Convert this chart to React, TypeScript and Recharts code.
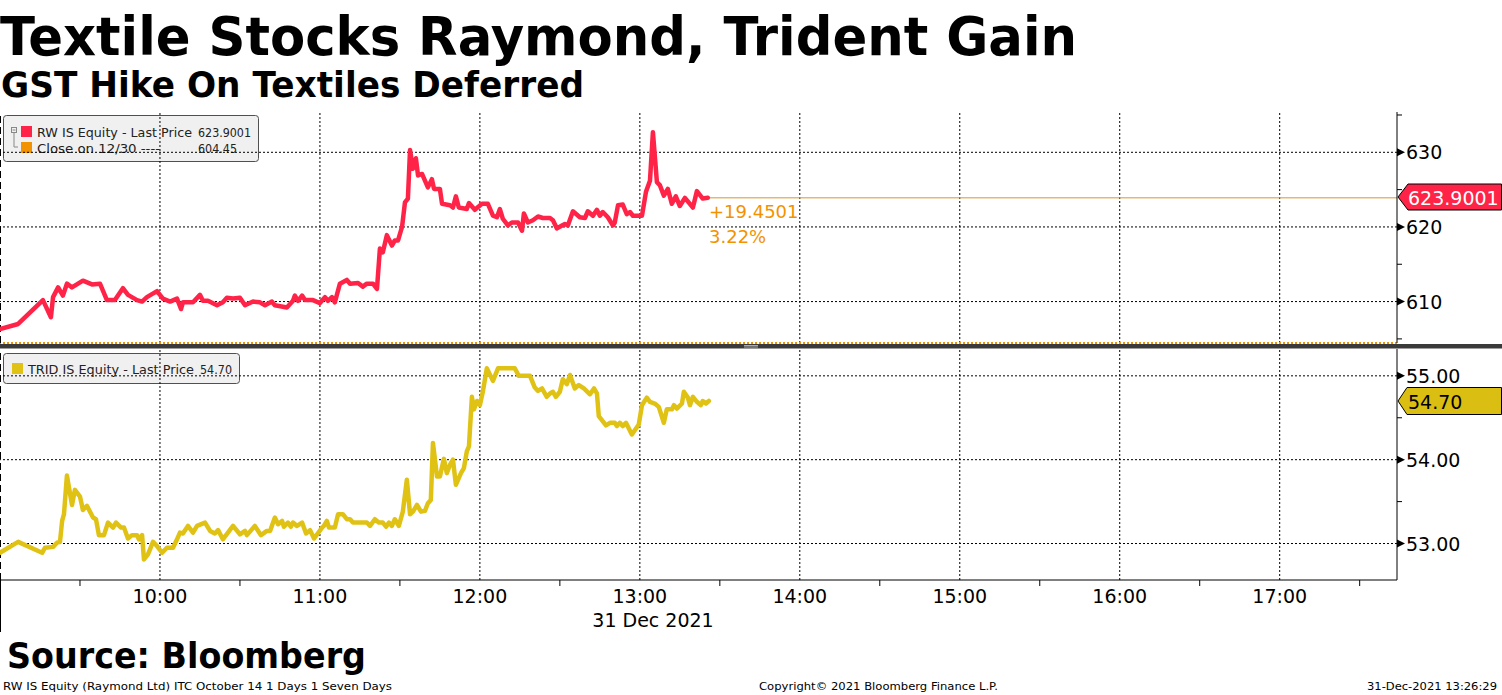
import React from "react";
import { LineChart, Line, XAxis, YAxis, ReferenceLine } from "recharts";

// ---- data (time = minutes after 09:00, 31 Dec 2021) ----
const rwTime = [
  0, 6.8, 16.1, 19.1, 19.9, 21.8, 23.6, 25.1, 27, 31.1, 34.5, 37.5, 40.1, 43.1, 46.1, 48, 51.4, 53.3, 55.1, 58.9,
  61.1, 63.8, 66.4, 67.9, 68.6, 72.4, 75, 76.1, 78, 81.4, 83.6, 85.1, 87.4, 90, 91.9, 94.9, 97.5, 99.4, 102, 103.1,
  107.6, 109.9, 110.6, 111.8, 113.3, 114.4, 117.4, 120, 121.9, 123, 124.5, 125.6, 127.5, 130.1, 131.3, 134.3, 136.1,
  137.6, 139.9, 141.4, 142.5, 143.6, 145.1, 147, 148.1, 149.3, 150.8, 151.9, 153, 153.8, 154.9, 156, 156.8, 158.3,
  160.5, 162, 162.8, 165, 165.8, 168.8, 169.9, 171, 172.1, 175.1, 175.9, 178.1, 180.8, 183, 184.9, 186.4, 187.5,
  188.6, 190.5, 192, 194.3, 195.8, 196.5, 198, 199.9, 201.8, 203.6, 206.3, 207.4, 208.9, 210.8, 211.9, 213, 214.9,
  217.5, 219.4, 220.5, 222.4, 223.9, 225, 226.1, 228, 229.9, 230.6, 231.8, 233.6, 235.1, 236.3, 237.4, 240.8, 242.3,
  243.8, 244.9, 246.4, 247.5, 249, 250.5, 252, 253.5, 255, 256.9, 259.9, 261.4, 263.6, 265.5,
];
const rwPrice = [
  606.3, 607.0, 610.2, 607.9, 610.6, 611.9, 610.8, 612.4, 611.9, 612.8, 612.3, 612.4, 610.2, 610.2, 611.8, 610.9,
  610.2, 610.0, 610.6, 611.4, 610.4, 610.0, 610.4, 609.0, 609.9, 609.9, 610.9, 610.1, 610.1, 609.5, 609.9, 610.5,
  610.4, 610.5, 609.5, 610.0, 609.9, 609.5, 610.0, 609.5, 609.2, 610.1, 610.8, 610.1, 610.8, 610.2, 610.2, 609.8,
  610.6, 610.1, 610.6, 609.9, 612.4, 612.9, 612.4, 612.5, 612.0, 612.4, 612.4, 611.7, 617.1, 616.6, 618.9, 617.5,
  618.2, 618.2, 620.0, 623.3, 623.8, 630.3, 627.8, 629.2, 626.9, 627.1, 625.3, 626.4, 625.1, 625.1, 623.1, 622.9,
  622.6, 624.1, 622.6, 622.4, 623.2, 622.3, 623.1, 623.1, 621.5, 621.3, 622.4, 621.1, 620.2, 620.6, 620.6, 619.5,
  621.8, 620.6, 620.9, 621.4, 621.2, 621.2, 620.9, 619.8, 620.2, 620.4, 620.2, 622.1, 621.3, 621.2, 622.1, 621.5,
  622.3, 621.5, 622.0, 621.3, 620.2, 620.6, 622.9, 623.0, 621.7, 622.0, 621.5, 621.5, 624.7, 626.2, 632.7, 626.0,
  625.6, 624.2, 625.1, 623.1, 624.1, 622.8, 623.9, 622.6, 624.8, 623.8, 623.9001,
];
const tridTime = [
  0, 6.8, 15.8, 16.9, 19.9, 21.4, 22.5, 23.3, 24, 25.1, 27, 28.1, 30, 31.1, 32.6, 34.9, 36, 37.1, 39, 40.5, 42.4,
  43.5, 45.4, 46.5, 48, 49.5, 51.4, 52.1, 53.3, 54, 55.5, 57.4, 58.9, 60.8, 62.6, 64.9, 66.4, 67.5, 68.6, 70.5, 72.4,
  73.9, 76.9, 78.8, 80.6, 81.8, 83.6, 87.4, 90, 91.9, 92.6, 95.6, 97.9, 100.1, 101.3, 103.1, 104.3, 105.8, 106.5,
  108, 109.1, 109.9, 111.4, 113.3, 114.8, 116.3, 117.8, 120.8, 121.5, 122.6, 123.4, 125.6, 126.8, 128.6, 130.1,
  131.3, 132.4, 137.6, 138.8, 140.6, 142.1, 143.6, 144.8, 145.9, 147, 148.1, 149.6, 151.1, 152.6, 153.8, 154.9,
  156.4, 157.9, 159.4, 160.5, 161.6, 162.4, 163.9, 165, 166.5, 167.6, 168.8, 169.9, 171, 172.9, 174, 175.1, 175.9,
  177, 177.8, 178.9, 180, 181.1, 182.6, 184.9, 186.8, 193.1, 194.6, 198.8, 200.6, 201.8, 203.3, 205.1, 206.3, 207.4,
  208.5, 210, 211.1, 212.6, 213.8, 215.6, 217.1, 219, 221.3, 222.8, 223.9, 224.6, 227.3, 228.8, 230.6, 231.4, 232.5,
  233.6, 234.8, 237, 239.6, 240.8, 242.6, 243.8, 245.6, 247.1, 249, 250.1, 252, 252.8, 253.9, 255.8, 256.5, 258,
  258.8, 259.9, 261.4, 262.9, 263.6, 264.8, 265.9,
];
const tridPrice = [
  52.89, 53.02, 52.89, 52.95, 52.96, 53.01, 53.02, 53.27, 53.35, 53.81, 53.46, 53.64, 53.56, 53.4, 53.45, 53.31,
  53.29, 53.1, 53.1, 53.25, 53.19, 53.25, 53.19, 53.19, 53.06, 53.1, 53.1, 53.05, 53.1, 52.81, 52.87, 53.02, 52.97,
  52.89, 52.95, 52.95, 53.05, 53.13, 53.12, 53.21, 53.13, 53.21, 53.25, 53.15, 53.12, 53.16, 53.05, 53.21, 53.11,
  53.15, 53.1, 53.21, 53.1, 53.15, 53.15, 53.31, 53.23, 53.27, 53.2, 53.25, 53.2, 53.25, 53.21, 53.25, 53.12, 53.16,
  53.06, 53.19, 53.21, 53.27, 53.19, 53.19, 53.35, 53.35, 53.29, 53.29, 53.25, 53.25, 53.21, 53.29, 53.25, 53.25,
  53.2, 53.25, 53.21, 53.29, 53.21, 53.38, 53.76, 53.35, 53.38, 53.46, 53.38, 53.39, 53.48, 53.52, 54.2, 53.8, 53.8,
  54.01, 53.84, 53.94, 54.0, 53.7, 53.84, 53.9, 54.1, 54.16, 54.75, 54.6, 54.7, 54.65, 54.81, 55.09, 54.94, 55.09,
  55.09, 55.0, 55.0, 54.86, 54.82, 54.85, 54.75, 54.79, 54.81, 54.75, 54.81, 54.96, 54.9, 55.01, 54.85, 54.89, 54.85,
  54.78, 54.85, 54.79, 54.52, 54.41, 54.44, 54.44, 54.4, 54.44, 54.4, 54.44, 54.3, 54.42, 54.65, 54.74, 54.69, 54.67,
  54.63, 54.44, 54.6, 54.6, 54.65, 54.61, 54.67, 54.81, 54.74, 54.65, 54.75, 54.69, 54.65, 54.7, 54.67, 54.7,
];

const hourTicks = [60, 120, 180, 240, 300, 360, 420, 480];
const hourLabels = ["10:00", "11:00", "12:00", "13:00", "14:00", "15:00", "16:00", "17:00"];
const halfHourTicks = [30, 90, 150, 210, 270, 330, 390, 450, 510];
const dateLabel = "31 Dec 2021";

const rwMajor = [610, 620, 630];
const rwMinor = [605, 615, 625, 635];
const tridMajor = [53, 54, 55];
const tridMinor = [53.5, 54.5];

const rwLast = 623.9001;
const rwPrevClose = 604.45;
const rwChange = "+19.4501";
const rwChangePct = "3.22%";
const tridLast = 54.7;

const titleText = "Textile Stocks Raymond, Trident Gain";
const subtitleText = "GST Hike On Textiles Deferred";
const sourceText = "Source: Bloomberg";
const footLeft = "RW IS Equity (Raymond Ltd) ITC October 14 1 Days 1 Seven Days";
const footMid = "Copyright\u00A9 2021 Bloomberg Finance L.P.";
const footRight = "31-Dec-2021 13:26:29";

// ---- styling / layout ----
const W = 1502;
const H = 695;
const PLOT_RIGHT = 1397;
const AXIS_W = W - PLOT_RIGHT;
const X_DOMAIN: [number, number] = [0, 524];
const RED = "#ff2348";
const YELLOW = "#e0c214";
const ORANGE = "#f39200";
const FONT = "'DejaVu Sans', Verdana, sans-serif";

const rwData = rwTime.map((t, i) => ({ t, v: rwPrice[i] }));
const tridData = tridTime.map((t, i) => ({ t, v: tridPrice[i] }));

const makeYTick = (major: number[], fmt: (v: number) => string) => (props: any) => {
  const { y, payload } = props;
  const v = payload.value as number;
  const isMajor = major.some((m) => Math.abs(m - v) < 1e-6);
  if (isMajor) {
    return (
      <g>
        <polygon points={`${PLOT_RIGHT},${y - 4} ${PLOT_RIGHT + 8},${y} ${PLOT_RIGHT},${y + 4}`} fill="#000" />
        <text x={PLOT_RIGHT + 9} y={y + 7} fontSize={19} fontFamily={FONT} fill="#000">
          {fmt(v)}
        </text>
      </g>
    );
  }
  return <line x1={PLOT_RIGHT} x2={PLOT_RIGHT + 5} y1={y} y2={y} stroke="#000" strokeWidth={1} />;
};

const XTick = (props: any) => {
  const { x, payload } = props;
  const v = payload.value as number;
  const idx = hourTicks.indexOf(v);
  if (idx >= 0) {
    return (
      <text x={x} y={603} textAnchor="middle" fontSize={19} fontFamily={FONT} fill="#000">
        {hourLabels[idx]}
      </text>
    );
  }
  return <line x1={x} x2={x} y1={580} y2={586} stroke="#000" strokeWidth={1} />;
};

const gridLines = (yVals: number[]) => [
  ...hourTicks.map((h) => (
    <ReferenceLine key={`gx${h}`} x={h} stroke="#000" strokeDasharray="2 2" strokeWidth={1} />
  )),
  ...yVals.map((v) => (
    <ReferenceLine key={`gy${v}`} y={v} stroke="#000" strokeDasharray="2 2" strokeWidth={1} />
  )),
];

export default function App() {
  const rwTick = makeYTick(rwMajor, (v) => String(v));
  const tridTick = makeYTick(tridMajor, (v) => v.toFixed(2));
  return (
    <div style={{ position: "relative", width: W, height: H, background: "#fff", overflow: "hidden" }}>
      <style>{"body{margin:0}"}</style>
      {/* background layer: titles, legends, separators, footer */}
      <svg width={W} height={H} style={{ position: "absolute", left: 0, top: 0 }}>
        <text x={0} y={55} fontSize={53} fontWeight="bold" fontFamily={FONT} textLength={1077} lengthAdjust="spacingAndGlyphs">
          {titleText}
        </text>
        <text x={1} y={97} fontSize={36} fontWeight="bold" fontFamily={FONT} textLength={583} lengthAdjust="spacingAndGlyphs">
          {subtitleText}
        </text>

        {/* top legend */}
        <rect x={3.5} y={115.5} width={255} height={46} rx={3} fill="#f0f0f0" stroke="#505050" />
        <rect x={11.5} y={127.5} width={5} height={5} fill="none" stroke="#888" />
        <line x1={12.5} x2={15.5} y1={130} y2={130} stroke="#888" />
        <polyline points="14,133 14,147 18,147" fill="none" stroke="#888" />
        <rect x={21} y={126} width={11} height={11} fill={RED} />
        <rect x={21} y={142} width={11} height={11} fill={ORANGE} />
        <text x={37} y={136.5} fontSize={13} fontFamily={FONT} fill="#222" textLength={155} lengthAdjust="spacingAndGlyphs">
          RW IS Equity - Last Price
        </text>
        <text x={198} y={136.5} fontSize={13} fontFamily={FONT} fill="#222" textLength={53} lengthAdjust="spacingAndGlyphs">
          {rwLast.toFixed(4)}
        </text>
        <text x={37} y={152.5} fontSize={13} fontFamily={FONT} fill="#222" textLength={123} lengthAdjust="spacingAndGlyphs">
          Close on 12/30 ----
        </text>
        <text x={198} y={152.5} fontSize={13} fontFamily={FONT} fill="#222" textLength={39} lengthAdjust="spacingAndGlyphs">
          {rwPrevClose.toFixed(2)}
        </text>

        {/* bottom legend */}
        <rect x={3.5} y={353.5} width={236} height={30} rx={3} fill="#f0f0f0" stroke="#505050" />
        <rect x={12} y={363} width={11} height={11} fill={YELLOW} />
        <text x={28} y={373.5} fontSize={13} fontFamily={FONT} fill="#222" textLength={166} lengthAdjust="spacingAndGlyphs">
          TRID IS Equity - Last Price
        </text>
        <text x={200} y={373.5} fontSize={13} fontFamily={FONT} fill="#222" textLength={32} lengthAdjust="spacingAndGlyphs">
          {tridLast.toFixed(2)}
        </text>

        {/* panel separator */}
        <rect x={0} y={344} width={W} height={4.5} fill="#3a3a3a" />
        <line x1={744} x2={758} y1={345.5} y2={345.5} stroke="#aaa" />
        <line x1={744} x2={758} y1={347} y2={347} stroke="#aaa" />

        {/* left line under axis */}
        <line x1={0.5} x2={0.5} y1={580} y2={632} stroke="#000" />
        <text x={653} y={627} textAnchor="middle" fontSize={19} fontFamily={FONT}>
          {dateLabel}
        </text>

        {/* change annotation */}
        <text x={709} y={218} fontSize={18} fontFamily={FONT} fill={ORANGE}>
          {rwChange}
        </text>
        <text x={709} y={243} fontSize={18} fontFamily={FONT} fill={ORANGE}>
          {rwChangePct}
        </text>

        {/* footer */}
        <text x={7} y={668} fontSize={36} fontWeight="bold" fontFamily={FONT} textLength={359} lengthAdjust="spacingAndGlyphs">
          {sourceText}
        </text>
        <text x={3} y={690} fontSize={11} fontFamily={FONT} textLength={389} lengthAdjust="spacingAndGlyphs">
          {footLeft}
        </text>
        <text x={759} y={690} fontSize={11} fontFamily={FONT} textLength={239} lengthAdjust="spacingAndGlyphs">
          {footMid}
        </text>
        <text x={1497} y={690} fontSize={11} fontFamily={FONT} textAnchor="end" textLength={130} lengthAdjust="spacingAndGlyphs">
          {footRight}
        </text>
      </svg>

      {/* top panel: Raymond */}
      <div style={{ position: "absolute", left: 0, top: 0 }}>
        <LineChart width={W} height={350} data={rwData} margin={{ top: 112, right: 0, bottom: 7, left: 0 }}>
          <XAxis type="number" dataKey="t" domain={X_DOMAIN} hide allowDataOverflow />
          <YAxis
            orientation="right"
            width={AXIS_W}
            domain={[rwPrevClose, 635.4]}
            ticks={[...rwMinor, ...rwMajor].sort((a, b) => a - b)}
            interval={0}
            allowDataOverflow
            tickLine={false}
            axisLine={{ stroke: "#000", strokeWidth: 1 }}
            tick={rwTick}
          />
          {gridLines(rwMajor)}
          <ReferenceLine y={rwPrevClose} stroke={ORANGE} strokeDasharray="2 2" strokeWidth={2} />
          <ReferenceLine x={0} stroke="#000" strokeDasharray="7 4" strokeWidth={2} />
          <ReferenceLine
            segment={[
              { x: rwTime[rwTime.length - 1], y: rwLast },
              { x: X_DOMAIN[1], y: rwLast },
            ]}
            stroke="#d9962a"
            strokeWidth={1}
          />
          <Line
            type="linear"
            dataKey="v"
            stroke={RED}
            strokeWidth={4.5}
            strokeLinejoin="round"
            strokeLinecap="round"
            dot={false}
            isAnimationActive={false}
          />
        </LineChart>
      </div>

      {/* bottom panel: Trident */}
      <div style={{ position: "absolute", left: 0, top: 0 }}>
        <LineChart width={W} height={H} data={tridData} margin={{ top: 349, right: 0, bottom: 55, left: 0 }}>
          <XAxis
            type="number"
            dataKey="t"
            domain={X_DOMAIN}
            ticks={[...halfHourTicks, ...hourTicks].sort((a, b) => a - b)}
            interval={0}
            height={60}
            allowDataOverflow
            tickLine={false}
            axisLine={{ stroke: "#000", strokeWidth: 1 }}
            tick={XTick}
          />
          <YAxis
            orientation="right"
            width={AXIS_W}
            domain={[52.565, 55.32]}
            ticks={[...tridMinor, ...tridMajor].sort((a, b) => a - b)}
            interval={0}
            allowDataOverflow
            tickLine={false}
            axisLine={{ stroke: "#000", strokeWidth: 1 }}
            tick={tridTick}
          />
          {gridLines(tridMajor)}
          <ReferenceLine x={0} stroke="#000" strokeDasharray="7 4" strokeWidth={2} />
          <Line
            type="linear"
            dataKey="v"
            stroke={YELLOW}
            strokeWidth={4.5}
            strokeLinejoin="round"
            strokeLinecap="round"
            dot={false}
            isAnimationActive={false}
          />
        </LineChart>
      </div>

      {/* value tags on the right axis */}
      <svg width={W} height={H} style={{ position: "absolute", left: 0, top: 0, pointerEvents: "none" }}>
        <polygon points="1398,197 1408,184 1501.5,184 1501.5,210 1408,210" fill={RED} stroke="#000" strokeWidth={1} />
        <text x={1408} y={205} fontSize={19} fontFamily={FONT} fill="#fff">
          {rwLast.toFixed(4)}
        </text>
        <polygon points="1398,401 1407,387.5 1501.5,387.5 1501.5,414.5 1407,414.5" fill="#dbbe12" stroke="#000" strokeWidth={1} />
        <text x={1408} y={409} fontSize={19} fontFamily={FONT} fill="#000">
          {tridLast.toFixed(2)}
        </text>
      </svg>
    </div>
  );
}
